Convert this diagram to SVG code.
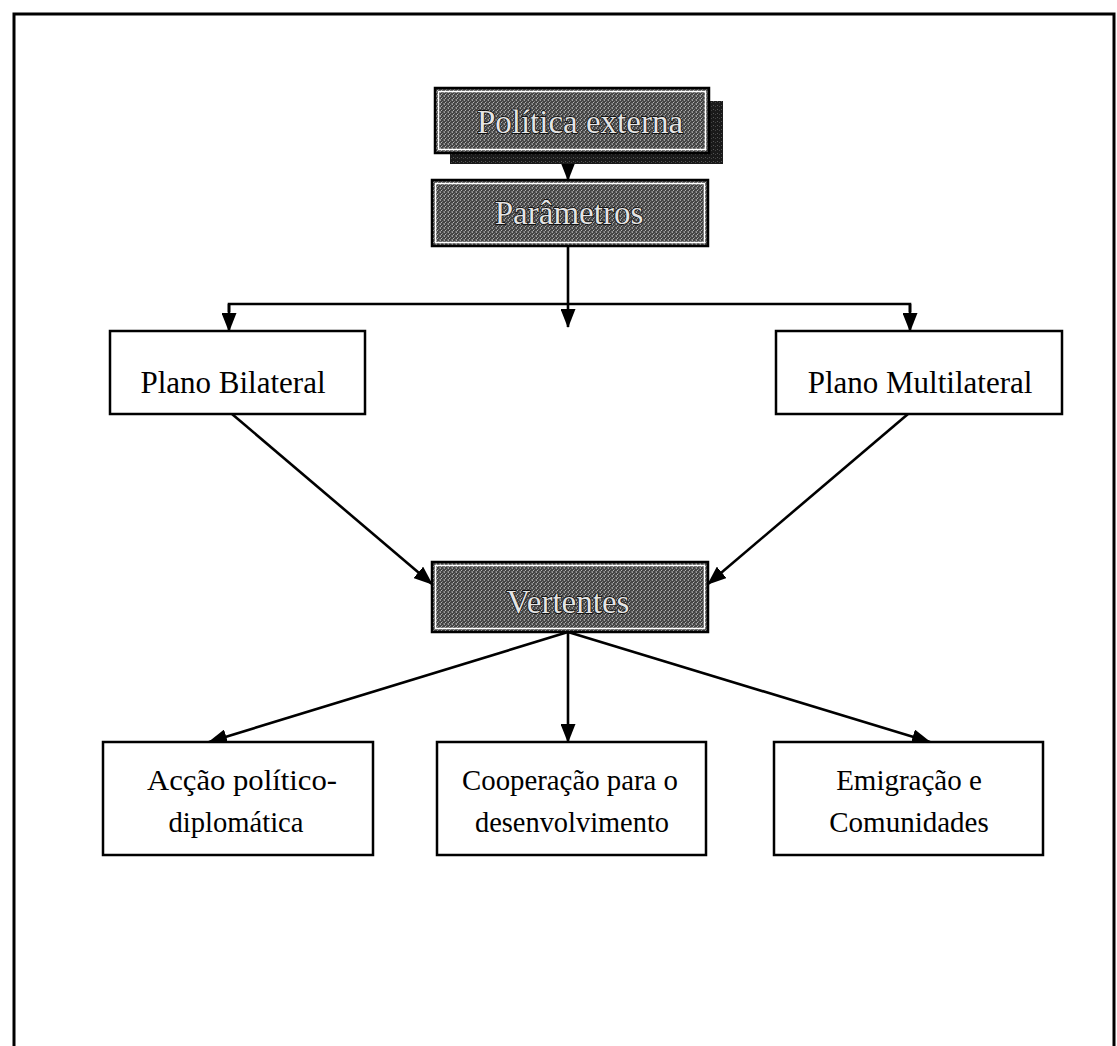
<svg xmlns="http://www.w3.org/2000/svg" width="1117" height="1046" viewBox="0 0 1117 1046">
<style>
.frame{fill:none;stroke:#000;stroke-width:3}
.box{fill:#fff;stroke:#000;stroke-width:2.5}
.dbox{fill:url(#tex);stroke:#000;stroke-width:2.5}
.inner{fill:none;stroke:#fff;stroke-width:1.5}
.lbl{font-family:"Liberation Serif","Times New Roman",serif;font-size:29px;fill:#000;text-anchor:middle}
.big{font-size:31px}
.dlbl{font-family:"Liberation Serif","Times New Roman",serif;font-size:33px;fill:#e4e4e4;stroke:#000;stroke-width:1.4;paint-order:stroke;text-anchor:middle}
.conn{fill:none;stroke:#000;stroke-width:2.6}
</style>
<defs>
<pattern id="tex" patternUnits="userSpaceOnUse" width="4" height="4">
<rect width="4" height="4" fill="#444"/>
<rect x="0" y="0" width="1" height="1" fill="#a0a0a0"/>
<rect x="2" y="1" width="1" height="1" fill="#808080"/>
<rect x="1" y="2" width="1" height="1" fill="#b4b4b4"/>
<rect x="3" y="3" width="1" height="1" fill="#707070"/>
<rect x="3" y="0" width="1" height="1" fill="#606060"/>
<rect x="0" y="3" width="1" height="1" fill="#8a8a8a"/>
</pattern>
<pattern id="tex2" patternUnits="userSpaceOnUse" width="4" height="4">
<rect width="4" height="4" fill="#1a1a1a"/>
<rect x="1" y="1" width="1" height="1" fill="#555"/>
<rect x="3" y="2" width="1" height="1" fill="#444"/>
</pattern>
<marker id="ah" viewBox="0 0 19 15" refX="18" refY="7.5" markerWidth="19" markerHeight="15" markerUnits="userSpaceOnUse" orient="auto">
<path d="M0,0 L19,7.5 L0,15 Z" fill="#000"/>
</marker>
</defs>
<path class="frame" d="M14,1046 L14,14 L1114,14 L1114,1046"/>

<g id="connectors">
<line class="conn" x1="568" y1="163" x2="568" y2="180" marker-end="url(#ah)"/>
<line class="conn" x1="568" y1="246" x2="568" y2="327" marker-end="url(#ah)"/>
<polyline class="conn" points="229,312 229,304 910,304 910,312"/>
<line class="conn" x1="229" y1="304" x2="229" y2="331" marker-end="url(#ah)"/>
<line class="conn" x1="910" y1="304" x2="910" y2="331" marker-end="url(#ah)"/>
<line class="conn" x1="232" y1="414" x2="432" y2="584" marker-end="url(#ah)"/>
<line class="conn" x1="908" y1="414" x2="708" y2="584" marker-end="url(#ah)"/>
<line class="conn" x1="568" y1="632" x2="209" y2="742" marker-end="url(#ah)"/>
<line class="conn" x1="568" y1="632" x2="568" y2="742" marker-end="url(#ah)"/>
<line class="conn" x1="568" y1="632" x2="930" y2="742" marker-end="url(#ah)"/>
</g>

<g id="politica-externa">
<rect x="450" y="101" width="273" height="63" fill="url(#tex2)"/>
<rect class="dbox" x="435" y="88" width="274" height="65"/>
<rect class="inner" x="438.5" y="91.5" width="267" height="58"/>
<text class="dlbl" x="580" y="133">Política externa</text>
</g>

<g id="parametros">
<rect class="dbox" x="432" y="180" width="276" height="66"/>
<rect class="inner" x="435.5" y="183.5" width="269" height="59"/>
<text class="dlbl" x="569" y="224">Parâmetros</text>
</g>

<g id="plano-bilateral">
<rect class="box" x="110" y="331" width="255" height="83"/>
<text class="lbl big" x="233" y="393">Plano Bilateral</text>
</g>

<g id="plano-multilateral">
<rect class="box" x="776" y="331" width="286" height="83"/>
<text class="lbl big" x="920" y="393">Plano Multilateral</text>
</g>

<g id="vertentes">
<rect class="dbox" x="432" y="562" width="276" height="70"/>
<rect class="inner" x="435.5" y="565.5" width="269" height="63"/>
<text class="dlbl" x="568" y="613">Vertentes</text>
</g>

<g id="accao">
<rect class="box" x="103" y="742" width="270" height="113"/>
<text class="lbl" x="242" y="790" textLength="190" lengthAdjust="spacingAndGlyphs">Acção político-</text>
<text class="lbl" x="236" y="832" textLength="135" lengthAdjust="spacingAndGlyphs">diplomática</text>
</g>

<g id="cooperacao">
<rect class="box" x="437" y="742" width="269" height="113"/>
<text class="lbl" x="570" y="790" textLength="216" lengthAdjust="spacingAndGlyphs">Cooperação para o</text>
<text class="lbl" x="572" y="832" textLength="194" lengthAdjust="spacingAndGlyphs">desenvolvimento</text>
</g>

<g id="emigracao">
<rect class="box" x="774" y="742" width="269" height="113"/>
<text class="lbl" x="909" y="790">Emigração e</text>
<text class="lbl" x="909" y="832">Comunidades</text>
</g>
</svg>
